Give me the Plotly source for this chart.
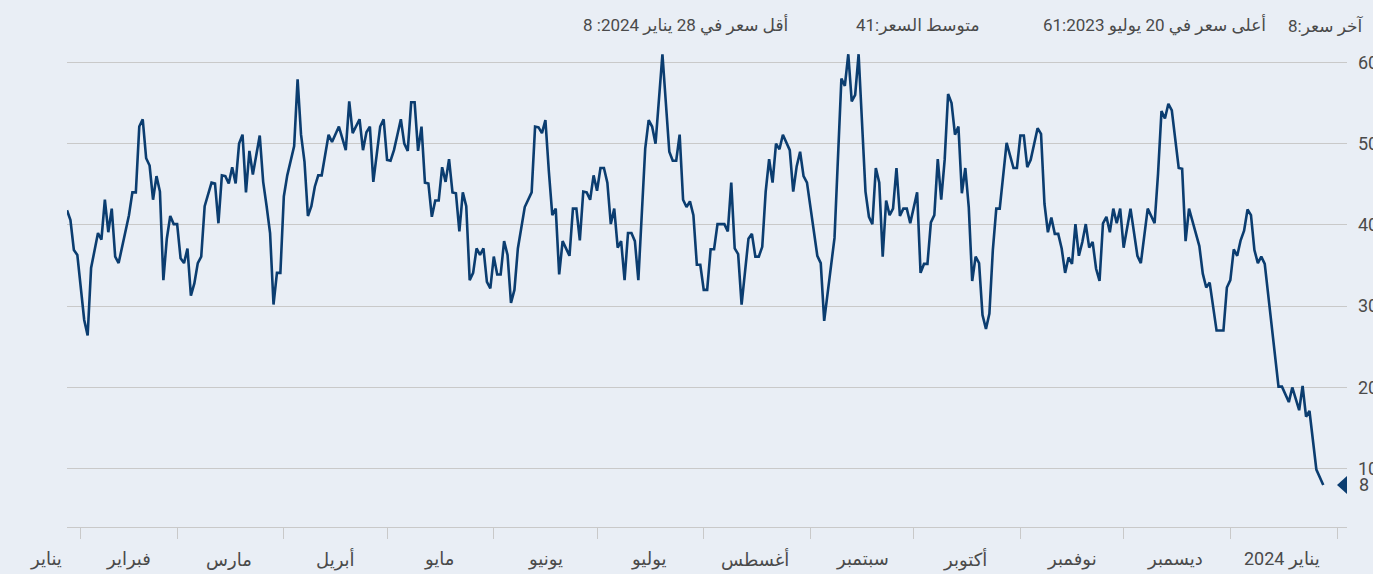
import pandas as pd
import plotly.graph_objects as go

# ---------------- data ----------------
start_date = "2023-01-28"          # first observation
days = [0, 1, 2, 3, 5, 6, 7, 9, 10, 11, 12, 13, 14, 15, 18, 19, 20, 21, 22, 23, 24, 25, 26, 27, 28, 29, 30,
        31, 32, 33, 34, 35, 36, 37, 38, 39, 40, 41, 42, 43, 44, 45, 46, 47, 48, 49, 50, 51, 52, 53, 54, 56,
        57, 58, 59, 60, 61, 62, 63, 64, 66, 67, 68, 69, 70, 71, 72, 73, 74, 76, 77, 79, 80, 81, 82, 83, 85,
        86, 87, 88, 89, 90, 91, 92, 93, 94, 95, 96, 97, 98, 99, 100, 101, 102, 103, 104, 105, 106, 107, 108,
        109, 110, 111, 112, 113, 114, 115, 116, 117, 118, 119, 120, 121, 122, 123, 124, 125, 126, 127, 128,
        129, 130, 131, 133, 135, 136, 137, 138, 139, 140, 141, 142, 143, 144, 145, 146, 147, 148, 149, 150,
        151, 152, 153, 154, 155, 156, 157, 158, 159, 160, 161, 162, 163, 164, 165, 166, 168, 169, 170, 171,
        173, 175, 176, 177, 178, 179, 180, 181, 182, 183, 184, 185, 186, 187, 188, 189, 191, 192, 193, 194,
        195, 196, 198, 199, 200, 201, 202, 203, 204, 205, 206, 207, 208, 210, 211, 212, 213, 214, 215, 218,
        219, 220, 223, 224, 225, 226, 227, 228, 229, 230, 232, 233, 234, 235, 236, 237, 238, 239, 240, 241,
        242, 243, 244, 245, 247, 248, 249, 250, 251, 252, 253, 254, 255, 256, 257, 258, 259, 260, 261, 262,
        263, 264, 265, 266, 267, 268, 269, 270, 271, 273, 274, 275, 276, 277, 278, 279, 280, 281, 282, 283,
        284, 285, 286, 287, 288, 289, 290, 291, 292, 293, 294, 295, 296, 297, 298, 299, 300, 301, 302, 303,
        304, 305, 306, 307, 309, 311, 312, 314, 316, 317, 318, 319, 320, 321, 323, 324, 325, 326, 328, 329,
        330, 331, 332, 334, 336, 337, 338, 339, 340, 341, 342, 343, 344, 345, 346, 347, 348, 352, 353, 355,
        356, 358, 359, 360, 361, 363, 365]
prices = [41.8, 40.6, 36.9, 36.3, 28.3, 26.4, 34.7, 39.0, 38.2, 43.1, 39.1, 42.0, 36.1, 35.3, 41.2, 44.0,
          44.0, 52.1, 53.0, 48.2, 47.3, 43.1, 46.0, 44.1, 33.2, 38.3, 41.1, 40.1, 40.1, 35.9, 35.3, 37.1,
          31.3, 32.8, 35.3, 36.1, 42.3, 43.7, 45.2, 45.1, 40.2, 46.1, 46.0, 45.1, 47.1, 45.1, 50.0, 51.1,
          44.0, 49.1, 46.2, 51.0, 45.3, 42.3, 39.0, 30.2, 34.1, 34.1, 43.5, 46.1, 49.7, 57.9, 51.1, 47.8,
          41.1, 42.3, 44.7, 46.1, 46.1, 51.1, 50.2, 52.1, 50.7, 49.2, 55.2, 51.3, 53.0, 49.2, 51.4, 52.1,
          45.3, 49.0, 52.1, 53.0, 48.0, 47.9, 49.2, 51.1, 53.0, 50.0, 49.1, 55.1, 55.1, 49.1, 52.1, 45.2,
          45.1, 41.0, 43.0, 43.0, 47.1, 45.3, 48.1, 44.0, 43.9, 39.2, 44.0, 42.3, 33.2, 34.1, 37.1, 36.3,
          37.1, 33.0, 32.2, 36.1, 33.9, 33.9, 38.0, 36.3, 30.4, 32.0, 37.1, 42.2, 44.0, 52.1, 52.0, 51.3,
          52.9, 46.6, 41.2, 42.0, 33.9, 38.0, 37.1, 36.2, 42.0, 42.0, 38.1, 44.1, 44.0, 43.1, 46.1, 44.2,
          47.0, 47.0, 45.2, 40.1, 42.0, 37.2, 38.0, 33.2, 39.0, 39.0, 38.0, 33.2, 49.4, 52.9, 52.1, 50.0,
          61.0, 49.0, 47.9, 47.9, 51.1, 43.1, 42.2, 42.9, 41.2, 35.1, 35.1, 32.0, 32.0, 37.0, 37.0, 40.1,
          40.1, 39.2, 45.2, 37.1, 36.4, 30.2, 38.3, 38.9, 36.1, 36.1, 37.3, 44.1, 48.1, 45.2, 50.0, 49.3,
          51.1, 49.2, 44.1, 47.2, 49.0, 46.0, 45.2, 36.2, 35.3, 28.2, 38.4, 48.0, 58.0, 57.1, 61.0, 55.2,
          56.0, 61.0, 44.1, 41.0, 40.1, 47.0, 45.2, 36.1, 43.0, 41.2, 42.0, 47.0, 41.1, 42.0, 42.0, 40.2,
          44.0, 34.1, 35.2, 35.2, 40.3, 41.2, 48.1, 43.1, 48.0, 56.1, 55.0, 51.1, 52.1, 43.9, 47.0, 42.2,
          33.1, 36.1, 35.3, 28.9, 27.2, 29.1, 36.9, 42.0, 42.0, 50.1, 48.4, 47.0, 47.0, 51.0, 51.0, 47.1,
          48.0, 50.1, 51.9, 51.2, 42.6, 39.1, 40.9, 38.9, 38.9, 37.1, 34.1, 36.0, 35.2, 40.1, 36.2, 37.9,
          40.1, 37.2, 37.9, 34.6, 33.1, 40.2, 41.0, 39.1, 42.0, 40.2, 42.0, 37.2, 42.0, 36.2, 35.3, 42.0,
          40.2, 46.3, 54.0, 53.1, 54.9, 54.1, 47.0, 46.9, 38.0, 42.0, 39.1, 37.4, 34.0, 32.3, 32.9, 27.0,
          27.0, 32.3, 33.2, 37.0, 36.2, 38.1, 39.3, 41.9, 41.2, 36.9, 35.3, 36.1, 35.2, 20.1, 20.1, 18.2,
          20.0, 17.2, 20.2, 16.4, 17.1, 9.9, 8.0]

month_labels = ["يناير", "فبراير", "مارس", "أبريل", "مايو", "يونيو", "يوليو",
                "أغسطس", "سبتمبر", "أكتوبر", "نوفمبر", "ديسمبر", "يناير 2024"]
month_label_dates = ["2023-01-22", "2023-02-15", "2023-03-16", "2023-04-16", "2023-05-16",
                     "2023-06-16", "2023-07-16", "2023-08-16", "2023-09-16", "2023-10-16",
                     "2023-11-16", "2023-12-16", "2024-01-16"]
y_ticks = [10, 20, 30, 40, 50, 60]

header_texts = ["آخر سعر:8", "أعلى سعر في 20 يوليو 61:2023", "متوسط السعر:41",
                "أقل سعر في 28 يناير 2024: 8"]

# ---------------- styles ----------------
BG = "#e9eef5"
LINE = "#0b3d70"
GRID = "#c9c9c9"
TXT = "#4a4a4a"
FONT = "Roboto, 'DejaVu Sans', sans-serif"

t0 = pd.Timestamp(start_date)
x_dates = t0 + pd.to_timedelta(days, unit="D")
span = pd.Timedelta(days=371.9)
x_range = [t0, t0 + span]

fig = go.Figure()
fig.add_trace(go.Scatter(x=x_dates, y=prices, mode="lines",
                         line=dict(color=LINE, width=2.6), hoverinfo="skip",
                         showlegend=False))

fig.update_layout(
    width=1373, height=574,
    paper_bgcolor=BG, plot_bgcolor=BG,
    margin=dict(l=67, r=26, t=50, b=47, autoexpand=False),
    font=dict(family=FONT, color=TXT),
    xaxis=dict(type="date", range=x_range, tick0="2023-02-01", dtick="M1",
               ticks="outside", ticklen=11, tickcolor=GRID, tickwidth=1,
               showticklabels=False, showgrid=False, zeroline=False,
               showline=True, linecolor=GRID, linewidth=1, automargin=False),
    yaxis=dict(side="right", range=[2.83, 61.52], tickmode="array", tickvals=y_ticks,
               showgrid=True, gridcolor=GRID, gridwidth=1, zeroline=False,
               showline=False, ticks="", ticklabelstandoff=10,
               tickfont=dict(size=18, color=TXT, family=FONT), automargin=False),
)

# month labels (the first one lies left of the axis start, so place it in paper units)
for lab, d in zip(month_labels, month_label_dates):
    ts = pd.Timestamp(d)
    if ts < t0:
        xpos, xref = (ts - t0) / span, "paper"
    else:
        xpos, xref = d, "x"
    fig.add_annotation(x=xpos, xref=xref, y=0, yref="paper", yshift=-32,
                       text=lab, showarrow=False, xanchor="center", yanchor="middle",
                       font=dict(size=18, color=TXT, family=FONT))

# header stats
header_right = [1.0148, 0.938, 0.715, 0.565]
for txt, xr in zip(header_texts, header_right):
    fig.add_annotation(x=xr, xref="paper", y=1.052, yref="paper", text=txt,
                       showarrow=False, xanchor="right", yanchor="middle",
                       font=dict(size=17, color=TXT, family=FONT))

# last price indicator
last = prices[-1]
fig.add_shape(type="path", xref="paper", yref="y", xsizemode="pixel", ysizemode="pixel",
              xanchor=1, yanchor=last, path="M0,9 L0,-9 L-10,0 Z",
              fillcolor=LINE, line=dict(width=0))
fig.add_annotation(x=1, xref="paper", y=last, yref="y", xshift=10, text=f"{last:g}",
                   showarrow=False, xanchor="left", yanchor="middle",
                   font=dict(size=18, color=TXT, family=FONT))

fig.write_html("out.html", config={"displayModeBar": False},
               post_script="document.body.style.margin='0';document.body.style.background='%s';" % BG)
